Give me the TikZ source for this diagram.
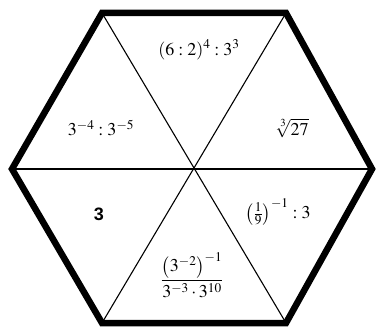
\documentclass[tikz,border=0pt]{standalone}
\usepackage{amsmath}
\usepackage{mathptmx}
\usepackage{fontspec}
\setmainfont{Liberation Serif}
\newfontfamily\boldsans{Liberation Sans}
\begin{document}
\begin{tikzpicture}[x=1pt,y=-1pt,
  outline/.style={line width=6.5pt,line join=miter},
  spoke/.style={line width=1.1pt},
  lbl/.style={font=\fontsize{18}{21}\selectfont,inner sep=0pt}]
\useasboundingbox (0,0) rectangle (377,328);
\coordinate (L) at (12,169);
\coordinate (TL) at (102,13);
\coordinate (TR) at (286,13);
\coordinate (R) at (372,169);
\coordinate (BR) at (286,323);
\coordinate (BL) at (102,323);
\coordinate (C) at (193,169);
\draw[spoke] (TL) -- (BR);
\draw[spoke] (TR) -- (BL);
\draw[spoke] (L) -- (R);
\draw[outline] (L) -- (TL) -- (TR) -- (R) -- (BR) -- (BL) -- cycle;
\node[lbl] (t1) at (199,50) {$(6:2)^4:3^3$};
\node[lbl] (t2) at (101,128) {$3^{-4}:3^{-5}$};
\node[lbl] (t3) at (292,128) {$\sqrt[3]{27}$};
\node[lbl] (t4) at (99,214) {\boldsans\bfseries 3};
\node[lbl] (t5) at (278,212) {$\left(\frac{1}{9}\right)^{-1}:3$};
\node[lbl] (t6) at (192,275) {$\dfrac{\left(3^{-2}\right)^{-1}}{3^{-3}\cdot 3^{10}}$};
\end{tikzpicture}
\end{document}
